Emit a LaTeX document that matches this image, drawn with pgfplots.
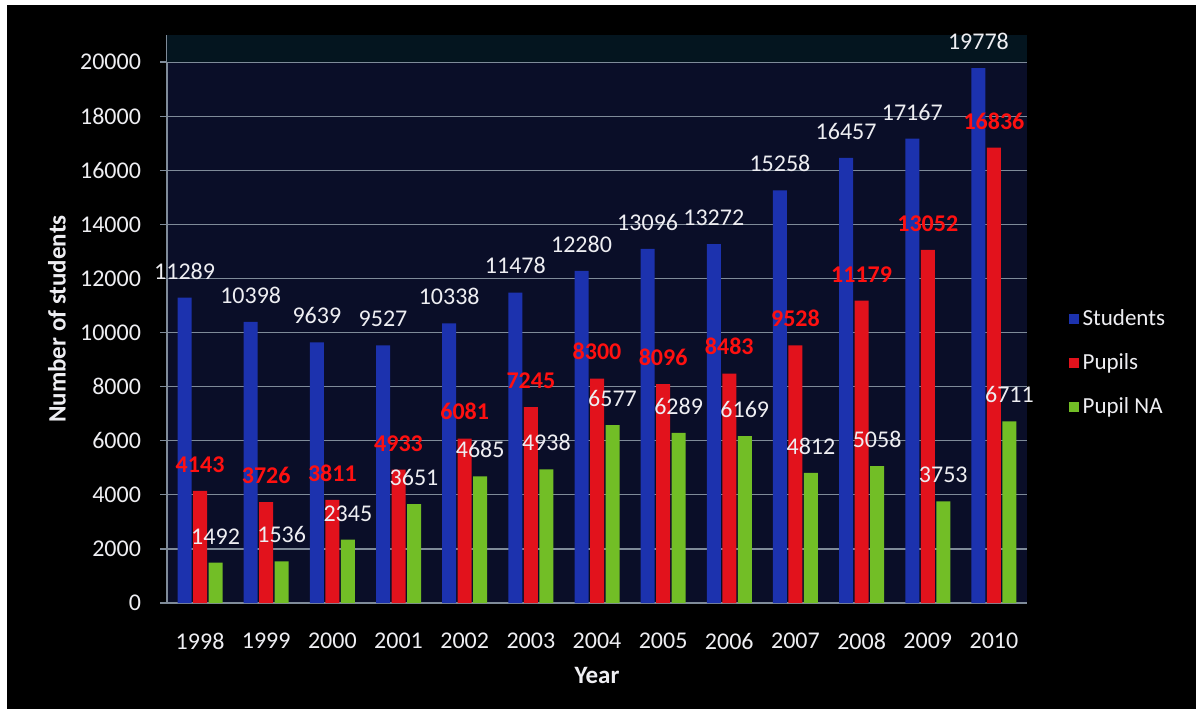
\documentclass[border=0pt]{standalone}
\usepackage{fontspec}
\setmainfont{Carlito}
\usepackage{pgfplots}
\pgfplotsset{compat=1.18}
\definecolor{bgnavy}{HTML}{0A0E28}
\definecolor{gridc}{HTML}{7F8B99}
\definecolor{blueB}{HTML}{1C32AE}
\definecolor{redB}{HTML}{E2121C}
\definecolor{greenB}{HTML}{72BE26}
\definecolor{lblred}{HTML}{FF1010}
\definecolor{lblw}{HTML}{EEEEF2}
\begin{document}
\begin{tikzpicture}
\path[use as bounding box, fill=white] (0bp,0bp) rectangle (600bp,359.5bp);
\fill[black] (3.5bp,5bp) rectangle (598bp,357bp);
\begin{axis}[
  at={(83.5bp,58bp)}, anchor=south west,
  width=430bp, height=284bp, scale only axis,
  ybar=0.75bp, bar width=7bp,
  xmin=-0.5, xmax=12.5, ymin=0, ymax=21000,
  xtick={0,...,12},
  xticklabels={1998,1999,2000,2001,2002,2003,2004,2005,2006,2007,2008,2009,2010},
  ytick={0,2000,...,20000},
  scaled y ticks=false,
  /pgf/number format/.cd, 1000 sep={}, assume math mode=true, /pgfplots/.cd,
  axis background/.style={fill=bgnavy},
  axis line style={draw=gridc, line width=0.6bp},
  axis x line*=bottom, axis y line*=left,
  ymajorgrids, major grid style={draw=gridc, line width=0.6bp},
  major x tick style={draw=none},
  major y tick style={draw=gridc, line width=0.6bp},
  tick align=outside, major tick length=3.5bp,
  ticklabel style={text=lblw, font=\fontsize{12bp}{14bp}\selectfont},
  xticklabel style={yshift=-8bp},
  yticklabel style={xshift=-6bp},
  clip=false,
  nodes near coords,
  every node near coord/.append style={anchor=south, inner sep=0pt, yshift=9bp, font=\fontsize{12bp}{14bp}\selectfont},
  legend style={at={(1.041,0.4225)}, anchor=west, fill=none, draw=none, text=lblw,
    font=\fontsize{11.5bp}{13bp}\selectfont, row sep=8.75bp,
    /tikz/every even column/.append style={column sep=4bp}},
  legend cell align=left,
]
\fill[fill=black!80!teal!60!bgnavy] (axis cs:-0.5,20000) rectangle (axis cs:12.5,21000);
\addplot[draw=none, fill=blueB,
  every node near coord/.append style={text=lblw},
  legend image code/.code={\fill[blueB] (0bp,-2.5bp) rectangle (5bp,2.5bp);}]
  coordinates {(0,11289) (1,10398) (2,9639) (3,9527) (4,10338) (5,11478) (6,12280) (7,13096) (8,13272) (9,15258) (10,16457) (11,17167) (12,19778)};
\addplot[draw=none, fill=redB,
  every node near coord/.append style={text=lblred, font=\bfseries\fontsize{12bp}{14bp}\selectfont},
  legend image code/.code={\fill[redB] (0bp,-2.5bp) rectangle (5bp,2.5bp);}]
  coordinates {(0,4143) (1,3726) (2,3811) (3,4933) (4,6081) (5,7245) (6,8300) (7,8096) (8,8483) (9,9528) (10,11179) (11,13052) (12,16836)};
\addplot[draw=none, fill=greenB,
  every node near coord/.append style={text=lblw},
  legend image code/.code={\fill[greenB] (0bp,-2.5bp) rectangle (5bp,2.5bp);}]
  coordinates {(0,1492) (1,1536) (2,2345) (3,3651) (4,4685) (5,4938) (6,6577) (7,6289) (8,6169) (9,4812) (10,5058) (11,3753) (12,6711)};
\legend{Students, Pupils, Pupil NA}
\node[text=lblw, font=\bfseries\fontsize{12.5bp}{14bp}\selectfont, rotate=90, anchor=center]
  at (rel axis cs:-0.128,0.5) {Number of students};
\node[text=lblw, font=\bfseries\fontsize{12.5bp}{14bp}\selectfont, anchor=center]
  at (rel axis cs:0.5,-0.127) {Year};
\end{axis}
\end{tikzpicture}
\end{document}
